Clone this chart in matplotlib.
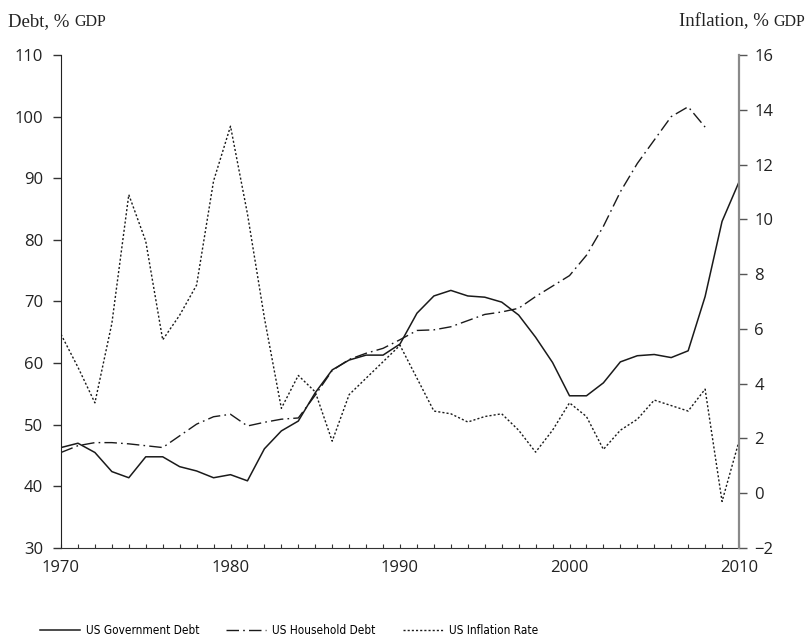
import matplotlib
matplotlib.use("Agg")
import matplotlib.pyplot as plt
import numpy as np

# annees 1970 - 2010
annees = list(range(1970, 2011))

dette_publique = [46.3, 47.0, 45.5, 42.4, 41.4, 44.8, 44.8, 43.2, 42.5, 41.4,
                  41.9, 40.9, 46.1, 49.0, 50.6, 55.2, 58.9, 60.5, 61.3, 61.3,
                  63.1, 68.1, 70.9, 71.8, 70.9, 70.7, 69.9, 67.8, 64.2, 60.1,
                  54.7, 54.7, 56.8, 60.2, 61.2, 61.4, 60.9, 62.0, 70.8, 83.0,
                  89.4]

dette_menages = [45.5, 46.6, 47.1, 47.1, 46.9, 46.6, 46.3, 48.2, 50.1, 51.3,
                 51.7, 49.8, 50.4, 50.9, 51.1, 54.8, 58.8, 60.6, 61.6, 62.4,
                 63.8, 65.3, 65.4, 65.9, 66.9, 67.9, 68.3, 68.9, 70.8, 72.5,
                 74.2, 77.5, 82.2, 87.8, 92.4, 96.2, 100.0, 101.6, 98.3]
annees_menages = annees[:len(dette_menages)]

inflation = [5.8, 4.6, 3.3, 6.2, 10.9, 9.2, 5.6, 6.5, 7.6, 11.4,
             13.4, 10.2, 6.4, 3.1, 4.3, 3.7, 1.9, 3.6, 4.2, 4.8,
             5.4, 4.2, 3.0, 2.9, 2.6, 2.8, 2.9, 2.3, 1.5, 2.3,
             3.3, 2.8, 1.6, 2.3, 2.7, 3.4, 3.2, 3.0, 3.8, -0.3,
             1.9]

noms = ["US Government Debt", "US Household Debt", "US Inflation Rate"]

police_chiffres = ["Open Sans", "DejaVu Sans"]
police_titres = ["Liberation Serif", "DejaVu Serif"]

fig = plt.figure(figsize=(8.07, 6.4), dpi=100)
ax = fig.add_axes([61 / 807, 1 - 548 / 640, 678 / 807, 493 / 640])
ax2 = ax.twinx()

l1, = ax.plot(annees, dette_publique, color="#1a1a1a", lw=1.1, ls="-")
l2, = ax.plot(annees_menages, dette_menages, color="#1a1a1a", lw=1.0,
              ls=(0, (9, 3, 1.2, 3)))
l3, = ax2.plot(annees, inflation, color="#1a1a1a", lw=1.0, ls=(0, (1.5, 1.5)))

ax.set_xlim(1970, 2010)
ax.set_ylim(30, 110)
ax2.set_ylim(-2, 16)
ax.set_xticks([1970, 1980, 1990, 2000, 2010])
ax.set_xticks(annees, minor=True)
ax.set_yticks(np.arange(30, 111, 10))
ax2.set_yticks(np.arange(-2, 17, 2))

for a in (ax, ax2):
    a.spines["top"].set_visible(False)
ax2.spines["left"].set_visible(False)
ax2.spines["bottom"].set_visible(False)
ax.spines["right"].set_visible(False)
ax.spines["left"].set_color("#222222")
ax.spines["bottom"].set_color("#333333")
ax2.spines["right"].set_color("#8a8a8a")
ax2.spines["right"].set_linewidth(1.6)

ax.tick_params(axis="y", direction="out", length=6, width=1, color="#333333",
               pad=7, labelsize=12)
ax.tick_params(axis="x", which="both", direction="in", length=3, width=0.8,
               color="#333333", pad=9, labelsize=12)
ax2.tick_params(axis="y", direction="out", length=6, width=1, color="#555555",
                pad=5, labelsize=12)

for lab in ax.get_xticklabels() + ax.get_yticklabels() + ax2.get_yticklabels():
    lab.set_family(police_chiffres)
    lab.set_color("#222222")

# titres des axes, GDP en petites capitales
r = fig.canvas.get_renderer()
y_titre = 1 - 26 / 640
t1 = fig.text(8 / 807, y_titre, "Debt, % ", family=police_titres,
              fontsize=13.5, color="#222222", va="baseline")
bb = t1.get_window_extent(r)
fig.text(bb.x1 / 807, y_titre, "GDP", family=police_titres, fontsize=11.5,
         color="#222222", va="baseline")
t2 = fig.text(805 / 807, y_titre, "GDP", family=police_titres,
              fontsize=11.5, color="#222222", va="baseline", ha="right")
bb = t2.get_window_extent(r)
fig.text(bb.x0 / 807, y_titre, "Inflation, % ", family=police_titres,
         fontsize=13.5, color="#222222", va="baseline", ha="right")

fig.legend([l1, l2, l3], noms, loc="lower left",
           bbox_to_anchor=(29 / 807, -0.012), ncol=3, frameon=False,
           handlelength=3.4, columnspacing=2.3, handletextpad=0.5,
           prop={"family": "DejaVu Sans", "stretch": "condensed", "size": 8.5})

fig.savefig("out.png", dpi=100)
